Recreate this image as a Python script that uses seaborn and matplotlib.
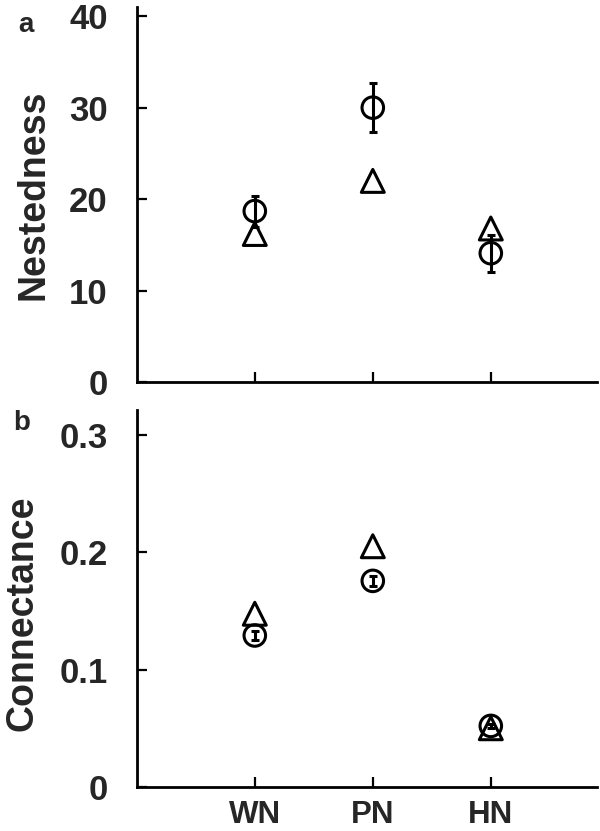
import numpy as np
import pandas as pd
import seaborn as sns
import matplotlib.pyplot as plt

# categories and values
networks = ["WN", "PN", "HN"]
xpos = [1, 2, 3]

nest_obs = [18.7, 30.0, 14.1]
nest_err = [1.7, 2.7, 2.0]
nest_null = [16.2, 22.0, 16.8]

conn_obs = [0.129, 0.1755, 0.052]
conn_err = [0.0035, 0.0045, 0.002]
conn_null = [0.1475, 0.205, 0.050]

sns.set_style("ticks")
plt.rcParams['font.family'] = ['Liberation Sans', 'DejaVu Sans']
plt.rcParams['font.weight'] = 'bold'

fig = plt.figure(figsize=(6, 8.31), dpi=100)
ax_a = fig.add_axes([0.228, 0.540, 0.767, 0.4516])
ax_b = fig.add_axes([0.228, 0.053, 0.767, 0.4536])


def panel(ax, obs, err, null, ylim, yticks, ylabel, label_x):
    df = pd.DataFrame({"x": xpos, "obs": obs, "null": null})
    ax.errorbar(df["x"], df["obs"], yerr=err, fmt='none', ecolor='black',
                elinewidth=2.2, capsize=3, capthick=2.2, zorder=2)
    sns.scatterplot(data=df, x="x", y="obs", marker='o', s=15.5 ** 2,
                    facecolor='none', edgecolor='black', linewidth=2.2,
                    ax=ax, zorder=3)
    sns.scatterplot(data=df, x="x", y="null", marker='^', s=16.5 ** 2,
                    facecolor='none', edgecolor='black', linewidth=2.2,
                    ax=ax, zorder=3)
    ax.set_xlim(0, 3.9)
    ax.set_ylim(*ylim)
    ax.set_yticks(yticks)
    ax.set_xticks(xpos)
    sns.despine(ax=ax)
    for s in ['left', 'bottom']:
        ax.spines[s].set_linewidth(2)
        ax.spines[s].set_color('black')
    ax.tick_params(direction='in', length=7, width=1.6, color='black')
    ax.tick_params(axis='y', labelsize=25, pad=21)
    ax.tick_params(axis='x', labelsize=22.5, pad=9.5)
    ax.set_ylabel(ylabel, fontsize=27, fontweight='bold')
    ax.set_xlabel("")
    ax.yaxis.set_label_coords(label_x[0], label_x[1])


panel(ax_a, nest_obs, nest_err, nest_null, (0, 41), [0, 10, 20, 30, 40],
      "Nestedness", (-0.185, 0.5))
ax_a.set_xticklabels([])

panel(ax_b, conn_obs, conn_err, conn_null, (0, 0.321), [0, 0.1, 0.2, 0.3],
      "Connectance", (-0.21, 0.46))
ax_b.set_yticklabels(["0", "0.1", "0.2", "0.3"])
ax_b.set_xticklabels(networks)
for ax in (ax_a, ax_b):
    for t in ax.get_yticklabels() + ax.get_xticklabels():
        t.set_fontweight('bold')

fig.text(26 / 600, 1 - 25 / 831, "a", fontsize=20, fontweight='bold',
         ha='center', va='center')
fig.text(22 / 600, 1 - 423 / 831, "b", fontsize=20, fontweight='bold',
         ha='center', va='center')

fig.savefig("out.png", dpi=100)
